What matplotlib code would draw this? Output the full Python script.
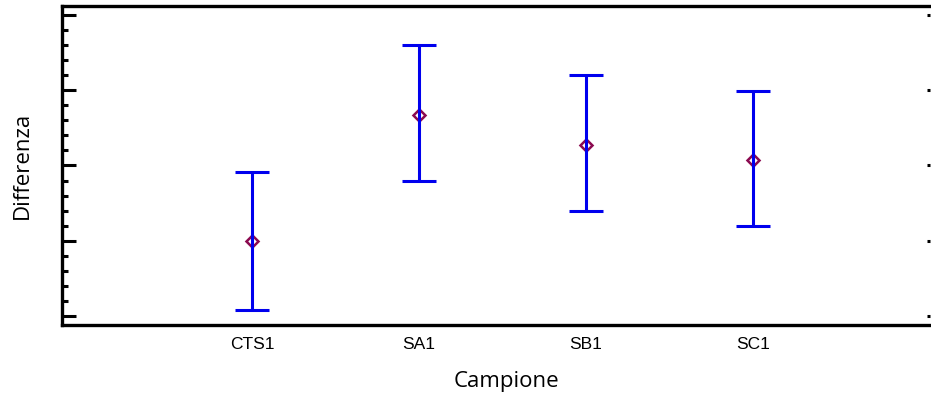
import matplotlib.pyplot as plt
from matplotlib.ticker import MultipleLocator, NullFormatter

# data
samples = ['CTS1', 'SA1', 'SB1', 'SC1']
means = [1.00, 2.67, 2.27, 2.07]
upper = [1.91, 3.60, 3.20, 2.99]
lower = [0.08, 1.79, 1.40, 1.20]

pos = list(range(1, len(samples) + 1))
err_lo = [m - l for m, l in zip(means, lower)]
err_hi = [u - m for u, m in zip(upper, means)]

fig = plt.figure(figsize=(9.31, 3.99), dpi=100)
ax = fig.add_axes([0.0666, 0.1855, 0.932, 0.7995])

ax.errorbar(pos, means, yerr=[err_lo, err_hi], fmt='none', ecolor='#0000ee',
            elinewidth=2.2, capsize=12, capthick=2.2, zorder=3)
ax.plot(pos, means, linestyle='none', marker='D', markersize=6.5,
        markerfacecolor='none', markeredgecolor='#8b0a50', markeredgewidth=1.8, zorder=2)

ax.set_xlim(-0.138, 5.06)
ax.set_ylim(-0.12, 4.12)
ax.set_xticks(pos)
ax.set_xticklabels(samples, fontsize=12.5, family='Liberation Sans')
ax.tick_params(axis='x', length=0, pad=9)

ax.yaxis.set_major_locator(MultipleLocator(1))
ax.yaxis.set_minor_locator(MultipleLocator(0.2))
ax.yaxis.set_major_formatter(NullFormatter())
ax.tick_params(axis='y', which='major', direction='in', length=10, width=2.2, right=True)
ax.tick_params(axis='y', which='minor', direction='in', length=4, width=2.2)
for t in ax.yaxis.get_major_ticks():
    t.tick2line.set_markersize(2.5)

for s in ax.spines.values():
    s.set_linewidth(2.4)
ax.spines['right'].set_visible(False)

ax.set_xlabel('Campione', fontsize=16, family='Open Sans')
ax.xaxis.set_label_coords(0.512, -0.145)
ax.set_ylabel('Differenza', fontsize=16, family='Open Sans')
ax.yaxis.set_label_coords(-0.034, 0.5)

fig.savefig('out.png', dpi=100)
